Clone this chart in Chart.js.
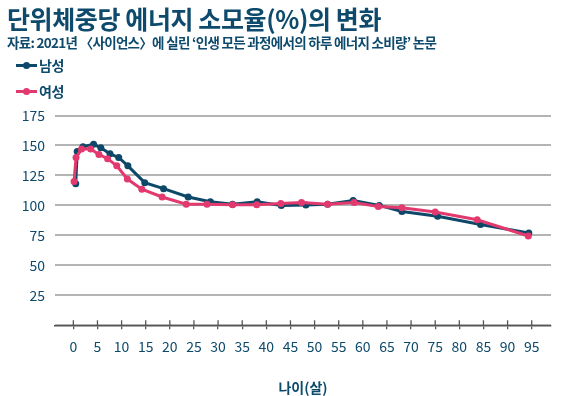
<!DOCTYPE html>
<html>
<head>
<meta charset="utf-8">
<script src="https://cdn.jsdelivr.net/npm/chart.js@4"></script>
<style>
  html, body { margin: 0; padding: 0; background: #fff; }
  #wrap { position: relative; width: 570px; height: 396px; overflow: hidden; font-family: "Noto Sans CJK KR", sans-serif; color: #0e4a6b; }
  #c { position: absolute; left: 0; top: 0; }
  .t { position: absolute; white-space: nowrap; font-weight: 700; }
  #title { left: 7px; top: 2px; font-size: 25px; letter-spacing: -0.4px; line-height: 32px; }
  #sub { left: 7px; top: 33px; font-size: 13.5px; letter-spacing: -0.7px; line-height: 18px; }
  .leg { position: absolute; left: 16px; height: 20px; font-size: 14px; font-weight: 700; line-height: 20px; }
  .leg .ln { position: absolute; left: 0; top: 9px; width: 21px; height: 3px; }
  .leg .dt { position: absolute; left: 7px; top: 7px; width: 7px; height: 7px; border-radius: 50%; }
  .leg span { position: absolute; left: 23px; top: 0; white-space: nowrap; letter-spacing: -0.5px; }
</style>
</head>
<body>
<div id="wrap">
  <canvas id="c" width="570" height="396"></canvas>
  <div class="t" id="title">단위체중당 에너지 소모율(%)의 변화</div>
  <div class="t" id="sub">자료: 2021년 〈사이언스〉에 실린 ‘인생 모든 과정에서의 하루 에너지 소비량’ 논문</div>
  <div class="leg" style="top:55px"><div class="ln" style="background:#0d4868"></div><div class="dt" style="background:#0d4868"></div><span>남성</span></div>
  <div class="leg" style="top:81px"><div class="ln" style="background:#e23a6e"></div><div class="dt" style="background:#e23a6e"></div><span>여성</span></div>
</div>
<script>
const seriesNames = ["남성", "여성"];
const maleAges   = [0.5, 0.8, 2, 4.2, 5.7, 7.6, 9.4, 11.3, 14.8, 18.7, 23.8, 28.4, 33, 38.1, 43.1, 48.2, 52.7, 58, 63.4, 68.1, 75.5, 84.4, 94.4];
const maleValues = [118, 145, 149, 151, 148, 143, 140, 133, 119, 114, 107, 103, 101, 103, 100, 100.3, 101, 104, 100, 95, 91, 84, 77];
const femaleAges   = [0.15, 0.56, 1.7, 3.6, 5.3, 7.1, 9, 11.2, 14.2, 18.4, 23.4, 27.7, 33, 38, 43, 47.3, 52.7, 58.2, 63.2, 68.1, 75, 83.7, 94.3];
const femaleValues = [120, 140, 147, 147, 142.5, 139, 133, 122, 113.5, 107, 101, 101, 100.5, 100.5, 101.5, 102.5, 101, 102.5, 99, 98, 94.5, 88, 74.5];
const xTickValues = [0,5,10,15,20,25,30,35,40,45,50,55,60,65,70,75,80,85,90,95];
const yTickValues = [25,50,75,100,125,150,175];
const xTitle = "나이(살)";

const TEXT = "#0e4a6b";
const MALE = "#0d4868";
const FEMALE = "#e23a6e";
const GRID = "#b4b4b4";

function pts(xs, ys) { return xs.map((x, i) => ({ x: x, y: ys[i] })); }

const crossTicks = {
  id: 'crossTicks',
  afterDraw(chart) {
    const xs = chart.scales.x, ctx = chart.ctx;
    const y0 = chart.chartArea.bottom;
    ctx.save();
    ctx.strokeStyle = "#555";
    ctx.lineWidth = 1.3;
    xs.ticks.forEach(t => {
      const px = xs.getPixelForValue(t.value);
      ctx.beginPath();
      ctx.moveTo(px, y0 - 5);
      ctx.lineTo(px, y0);
      ctx.stroke();
    });
    ctx.restore();
  }
};

new Chart(document.getElementById('c'), {
  type: 'line',
  data: {
    datasets: [
      { label: seriesNames[1], data: pts(femaleAges, femaleValues), borderColor: FEMALE, backgroundColor: FEMALE,
        borderWidth: 3, pointRadius: 3.5, pointBorderWidth: 0, tension: 0, order: 0 },
      { label: seriesNames[0], data: pts(maleAges, maleValues), borderColor: MALE, backgroundColor: MALE,
        borderWidth: 3, pointRadius: 3.5, pointBorderWidth: 0, tension: 0, order: 1 }
    ]
  },
  options: {
    responsive: false,
    animation: false,
    events: [],
    layout: { padding: { left: 0, right: 19, top: 115.5, bottom: 0 } },
    plugins: { legend: { display: false }, tooltip: { enabled: false }, title: { display: false } },
    scales: {
      x: {
        type: 'linear', min: -3.8, max: 99,
        afterBuildTicks: s => { s.ticks = xTickValues.map(v => ({ value: v })); },
        afterFit: s => { s.height = 70.7; },
        grid: { drawOnChartArea: false, drawTicks: true, tickLength: 4, color: "#555", lineWidth: 1.3 },
        border: { display: true, color: "#555", width: 1.5 },
        ticks: { color: TEXT, padding: 9, maxRotation: 0, autoSkip: false,
                 font: { family: "Noto Sans CJK KR", size: 14 } },
        title: { display: true, text: xTitle, color: TEXT, padding: { top: 5, bottom: 0 },
                 font: { family: "Noto Sans CJK KR", size: 14, weight: 'bold' } }
      },
      y: {
        min: 0, max: 175,
        ticks: { stepSize: 25, color: TEXT, padding: 10,
                 callback: v => (yTickValues.includes(v) ? v : ''),
                 font: { family: "Noto Sans CJK KR", size: 14 } },
        afterFit: s => { s.width = 55; },
        grid: { display: true, drawOnChartArea: true, drawTicks: false, color: GRID, lineWidth: 2 },
        border: { display: false }
      }
    }
  },
  plugins: [crossTicks]
});
</script>
</body>
</html>
